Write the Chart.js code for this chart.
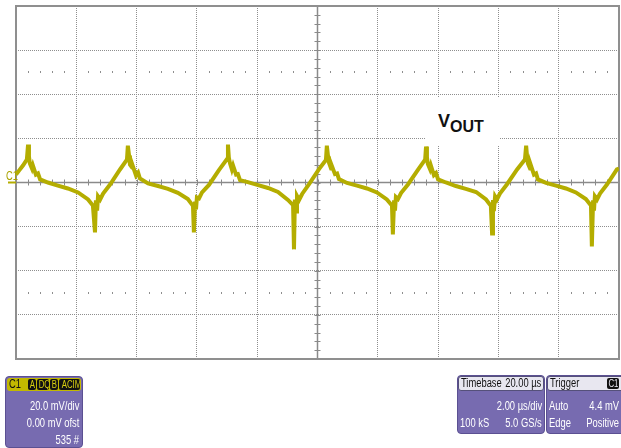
<!DOCTYPE html>
<html lang="en">

<head>
    <meta charset="UTF-8">
    <title>VOUT ripple</title>
    <script src="https://cdn.jsdelivr.net/npm/chart.js"></script>
    <style>
        body {
            background-color: #ffffff;
            margin: 0;
            padding: 0;
            font-family: "Liberation Sans", Arial, sans-serif;
        }

        #wrap {
            position: relative;
            width: 621px;
            height: 448px;
            overflow: hidden;
        }

        canvas {
            display: block;
        }

        .lbl {
            position: absolute;
            white-space: nowrap;
        }

        /* narrow scope font: squeeze normal sans */
        .nl {
            transform: scaleX(0.78);
            transform-origin: left center;
        }

        .nr {
            transform: scaleX(0.78);
            transform-origin: right center;
        }

        /* Vout tag over the grid */
        #vout {
            position: absolute;
            left: 426px;
            top: 97px;
            width: 73px;
            height: 49px;
            background: #ffffff;
            font-weight: bold;
            color: #111;
        }

        .panel {
            position: absolute;
            background: #776bb0;
            border: 1px solid #5b5092;
            border-radius: 4px;
            color: #ffffff;
            font-size: 12px;
            line-height: 13px;
        }

        .panel .head {
            position: absolute;
            left: 1px;
            right: 1px;
            top: 1px;
            height: 13px;
            border-radius: 3px;
        }

        .tag {
            position: absolute;
            top: 1px;
            height: 11px;
            background: #111;
            color: #d8cf10;
            border-radius: 2px;
            font-size: 10px;
            line-height: 11px;
            text-align: center;
            overflow: hidden;
        }

        .tag span {
            display: inline-block;
            transform: scaleX(0.78);
        }
    </style>
</head>

<body>
    <div id="wrap">
        <canvas id="scope" width="621" height="448"></canvas>

        <div class="lbl nl" style="left:6px; top:169px; color:#a9a200; font-size:12px;">C1</div>

        <div id="vout">
            <span class="lbl" style="left:12px; top:14px; font-size:18px;">V</span>
            <span class="lbl" style="left:24px; top:21px; font-size:16px;">OUT</span>
        </div>

        <!-- channel box -->
        <div class="panel" style="left:5px; top:376px; width:76px; height:70px;">
            <div class="head" style="background:#c2b900;">
                <span class="lbl nl" style="left:2px; top:0px; color:#111;">C1</span>
                <span class="tag" style="left:21px; width:8px;"><span>A</span></span>
                <span class="tag" style="left:30px; width:12px;"><span>DQ</span></span>
                <span class="tag" style="left:43px; width:8px;"><span>B</span></span>
                <span class="tag" style="left:52px; width:21px;"><span>ACIM</span></span>
            </div>
            <div class="lbl nr" style="right:3px; top:23px;">20.0 mV/div</div>
            <div class="lbl nr" style="right:3px; top:40px;">0.00 mV ofst</div>
            <div class="lbl nr" style="right:3px; top:57px;">535 #</div>
        </div>

        <!-- timebase box -->
        <div class="panel" style="left:457px; top:375px; width:86px; height:57px;">
            <div class="head" style="background:#e8e7f0; color:#111; border:1px solid #55507a; left:0; right:0; top:0;">
                <span class="lbl nl" style="left:2px; top:0px;">Timebase</span>
                <span class="lbl nr" style="right:2px; top:0px;">20.00 µs</span>
            </div>
            <div class="lbl nr" style="right:2px; top:24px;">2.00 µs/div</div>
            <div class="lbl nl" style="left:2px; top:41px;">100 kS</div>
            <div class="lbl nr" style="right:2px; top:41px;">5.0 GS/s</div>
        </div>

        <!-- trigger box -->
        <div class="panel" style="left:546px; top:375px; width:80px; height:57px;">
            <div class="head" style="background:#e8e7f0; color:#111; border:1px solid #55507a; left:0; right:0; top:0;">
                <span class="lbl nl" style="left:2px; top:0px;">Trigger</span>
                <span class="tag" style="left:59px; width:12px; color:#e8e7f0;"><span>C1</span></span>
            </div>
            <div class="lbl nl" style="left:2px; top:24px;">Auto</div>
            <div class="lbl nr" style="right:8px; top:24px;">4.4 mV</div>
            <div class="lbl nl" style="left:2px; top:41px;">Edge</div>
            <div class="lbl nr" style="right:8px; top:41px;">Positive</div>
        </div>
    </div>

    <script>
        // time in µs (20 µs screen, 2 µs/div), voltage in mV (20 mV/div)
        const timeUs = [
            0.00, 0.10, 0.23,
            0.36, 0.40, 0.43, 0.46, 0.53, 0.56, 0.66, 0.73, 0.80, 1.06, 1.39, 1.72, 2.06, 2.39, 2.55,
            2.62, 2.65, 2.69, 2.72, 2.79, 2.89, 3.12, 3.45,
            3.68, 3.71, 3.75, 3.78, 3.85, 3.88, 3.98, 4.05, 4.11, 4.38, 4.71, 5.04, 5.37, 5.70, 5.87,
            5.90, 5.94, 5.97, 6.00, 6.07, 6.17, 6.40, 6.73,
            7.00, 7.03, 7.06, 7.10, 7.16, 7.20, 7.30, 7.36, 7.43, 7.69, 8.03, 8.36, 8.69, 9.02, 9.19,
            9.22, 9.25, 9.29, 9.32, 9.39, 9.49, 9.72, 10.05,
            10.28, 10.31, 10.35, 10.38, 10.45, 10.48, 10.58, 10.65, 10.71, 10.98, 11.31, 11.64, 11.97, 12.30, 12.47,
            12.50, 12.54, 12.57, 12.60, 12.67, 12.77, 13.00, 13.33,
            13.57, 13.60, 13.63, 13.66, 13.73, 13.76, 13.86, 13.93, 14.00, 14.26, 14.59, 14.92, 15.26, 15.59, 15.75,
            15.79, 15.82, 15.85, 15.89, 15.95, 16.05, 16.28, 16.62,
            16.88, 16.92, 16.95, 16.98, 17.05, 17.08, 17.18, 17.25, 17.31, 17.58, 17.91, 18.24, 18.57, 18.90, 19.07,
            19.10, 19.14, 19.17, 19.20, 19.27, 19.37, 19.60, 19.93, 20.00
        ];
        const voutMv = [
            3.6, 5.4, 7.7,
            10.4, 17.2, 11.8, 8.6, 6.3, 7.7, 3.6, 4.1, 1.4, 0.0, -1.4, -2.7, -4.5, -7.7, -10.4,
            -22.6, -8.1, -12.7, -6.3, -7.7, -5.0, -0.9, 5.9,
            10.4, 16.7, 12.2, 8.1, 6.8, 7.2, 3.2, 4.5, 1.8, -0.4, -1.6, -2.9, -4.7, -7.5, -10.6,
            -22.6, -8.6, -12.2, -6.8, -7.2, -4.5, -1.1, 5.6,
            10.6, 17.2, 11.3, 8.6, 5.9, 7.7, 3.6, 3.8, 1.1, 0.2, -1.2, -2.5, -4.3, -7.9, -10.2,
            -30.3, -7.7, -13.1, -6.1, -7.9, -5.2, -0.7, 6.1,
            10.2, 16.7, 11.8, 9.0, 6.3, 7.4, 3.8, 4.1, 1.6, -0.2, -1.4, -2.7, -4.5, -7.7, -10.4,
            -23.5, -8.1, -12.7, -6.6, -7.5, -4.8, -0.9, 5.7,
            10.4, 16.3, 11.5, 8.4, 6.1, 7.7, 3.4, 4.3, 1.4, 0.0, -1.6, -2.9, -4.3, -7.7, -10.6,
            -23.1, -7.9, -12.9, -6.3, -7.7, -5.0, -0.9, 5.9,
            10.4, 16.7, 11.8, 8.6, 6.3, 7.7, 3.6, 4.1, 1.4, -0.2, -1.4, -2.7, -4.5, -7.5, -10.4,
            -29.0, -8.1, -12.7, -6.3, -7.7, -5.0, -0.9, 5.9, 6.3
        ];
        const xMin = 0, xMax = 20, xDiv = 2;
        const yMin = -80, yMax = 80, yDiv = 20;
        const dotRowsMv = [50, -50];

        const traceColor = '#b4ad00';
        const gridColor = '#8e8e8e';

        // scope-style frame, centre cross with minor ticks, dot rows
        const scopeDecor = {
            id: 'scopeDecor',
            beforeDatasetsDraw(chart) {
                const { ctx, chartArea: a, scales: { x, y } } = chart;
                ctx.save();
                ctx.fillStyle = '#8e8e8e';
                for (const mv of dotRowsMv) {
                    const py = y.getPixelForValue(mv);
                    for (let i = 1; i < 50; i++) {
                        if (i % 5 === 0) continue;
                        const px = x.getPixelForValue(i * xDiv / 5);
                        ctx.fillRect(Math.round(px), Math.round(py) - 1, 1, 2);
                    }
                }
                ctx.strokeStyle = '#8a8a8a';
                ctx.lineWidth = 1.5;
                const cx = x.getPixelForValue((xMin + xMax) / 2);
                const cy = y.getPixelForValue(0);
                ctx.beginPath();
                ctx.moveTo(a.left, cy); ctx.lineTo(a.right, cy);
                ctx.moveTo(cx, a.top); ctx.lineTo(cx, a.bottom);
                ctx.stroke();
                ctx.lineWidth = 1;
                ctx.beginPath();
                for (let i = 1; i < 50; i++) {
                    const px = Math.round(x.getPixelForValue(i * xDiv / 5)) + 0.5;
                    ctx.moveTo(px, cy - 3); ctx.lineTo(px, cy + 3);
                }
                for (let i = 1; i < 40; i++) {
                    const py = Math.round(y.getPixelForValue(yMin + i * yDiv / 5)) + 0.5;
                    ctx.moveTo(cx - 3, py); ctx.lineTo(cx + 3, py);
                }
                ctx.stroke();
                ctx.lineWidth = 2;
                ctx.strokeStyle = '#8f8f8f';
                ctx.strokeRect(a.left, a.top, a.right - a.left, a.bottom - a.top);
                // C1 ground marker
                ctx.strokeStyle = traceColor;
                ctx.lineWidth = 2;
                ctx.beginPath();
                ctx.moveTo(a.left - 8, cy); ctx.lineTo(a.left, cy);
                ctx.stroke();
                ctx.restore();
            }
        };

        const points = timeUs.map((t, i) => ({ x: t, y: voutMv[i] }));

        new Chart(document.getElementById('scope').getContext('2d'), {
            type: 'line',
            data: {
                datasets: [{
                    label: 'VOUT',
                    data: points,
                    borderColor: traceColor,
                    borderWidth: 4,
                    pointRadius: 0,
                    tension: 0,
                    borderJoinStyle: 'miter'
                }]
            },
            options: {
                responsive: false,
                animation: false,
                layout: { padding: { left: 16, right: 2, top: 6, bottom: 89 } },
                plugins: { legend: { display: false }, tooltip: { enabled: false } },
                scales: {
                    x: {
                        type: 'linear', min: xMin, max: xMax,
                        ticks: { display: false, stepSize: xDiv },
                        grid: { color: gridColor, drawTicks: false, lineWidth: 1 },
                        border: { display: false, dash: [1, 1] }
                    },
                    y: {
                        type: 'linear', min: yMin, max: yMax,
                        ticks: { display: false, stepSize: yDiv },
                        grid: { color: gridColor, drawTicks: false, lineWidth: 1 },
                        border: { display: false, dash: [1, 1] }
                    }
                }
            },
            plugins: [scopeDecor]
        });
    </script>
</body>

</html>
